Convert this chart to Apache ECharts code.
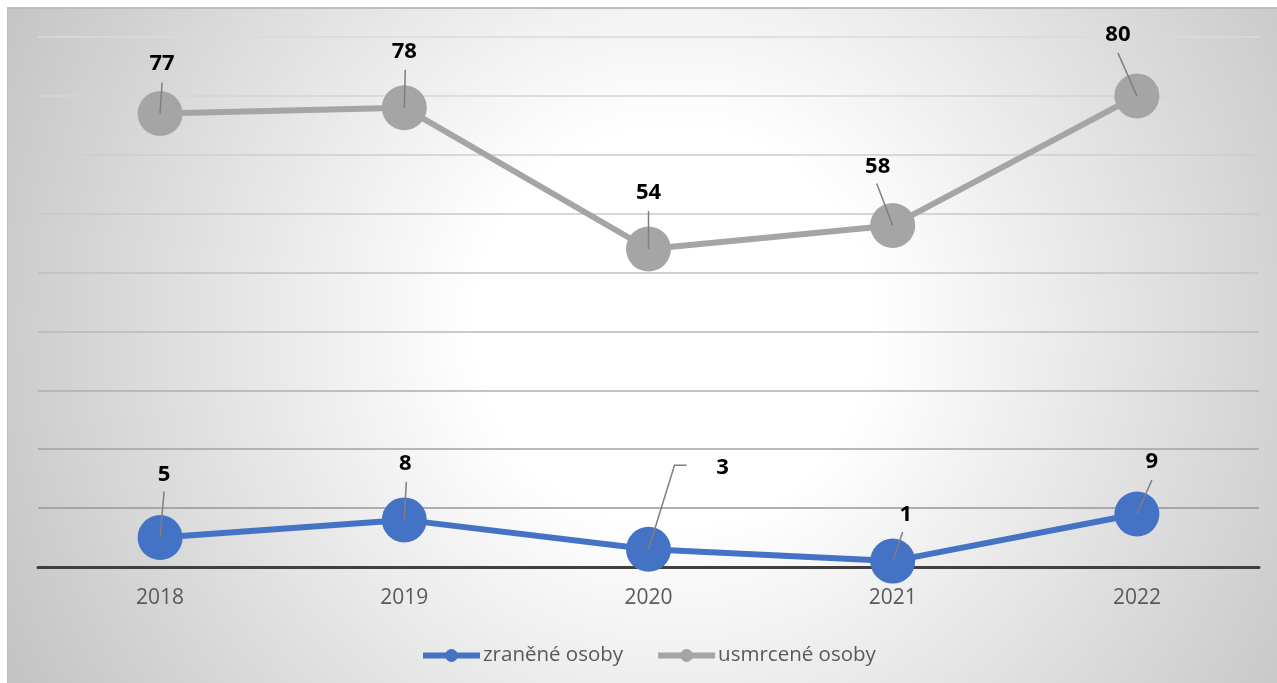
<!DOCTYPE html>
<html>
<head>
<meta charset="utf-8">
<script src="https://cdn.jsdelivr.net/npm/echarts@6/dist/echarts.min.js"></script>
<style>
  html, body { margin: 0; padding: 0; background: #fff; }
  .wrap { position: relative; width: 1277px; height: 683px; overflow: hidden; }
  .frame {
    position: absolute; left: 7px; top: 7px; width: 1280px; height: 690px;
    border-left: 1px solid #bdbdbd; border-top: 2px solid #bdbdbd;
    background: radial-gradient(circle farthest-corner at 52% 46%, #ffffff 0%, #ffffff 26%, #c2c2c2 100%);
  }
  #chart { position: absolute; left: 0; top: 0; width: 1277px; height: 683px; }
</style>
</head>
<body>
<div class="wrap">
  <div class="frame"></div>
  <div id="chart"></div>
</div>
<script>
// data
const years = ['2018', '2019', '2020', '2021', '2022'];
const zranene = [5, 8, 3, 1, 9];
const usmrcene = [77, 78, 54, 58, 80];

// callout offsets (px from marker centre)
const zraneneLabelPos = [[4, -63], [1, -56], [74, -82], [13, -46], [15, -52]];
const zraneneLeader = [[[4, -46]], [[2, -38]], [[26, -84], [38, -84]], [[10, -29]], [[15, -34]]];
const usmrceneLabelPos = [[2, -50], [0, -56], [0, -56], [-15, -59], [-19, -61]];
const usmrceneLeader = [[[2, -31]], [[1, -38]], [[0, -38]], [[-16, -42]], [[-19, -43]]];

// grid line colours, bottom to top
const gridColors = ['#404040', '#969696', '#a2a2a2', '#aeaeae', '#b8b8b8',
  '#c0c0c0', '#c8c8c8', '#cecece', '#d4d4d4', '#dadada'];

const chart = echarts.init(document.getElementById('chart'));

const callout = (values, labelPos, leader) => ({
  type: 'custom',
  z: 10,
  silent: true,
  data: values.map((v, i) => [i, v]),
  encode: { x: 0, y: 1 },
  renderItem: (params, api) => {
    const i = params.dataIndex;
    const p = api.coord([api.value(0), api.value(1)]);
    const pts = [[p[0], p[1]]].concat(leader[i].map(o => [p[0] + o[0], p[1] + o[1]]));
    return {
      type: 'group',
      children: [
        { type: 'polyline', shape: { points: pts },
          style: { stroke: '#7f7f7f', lineWidth: 1.5, fill: null } },
        { type: 'text',
          style: { text: String(values[i]), x: p[0] + labelPos[i][0], y: p[1] + labelPos[i][1],
            font: 'bold 22px "Open Sans"', fill: '#000', align: 'center', verticalAlign: 'middle' } }
      ]
    };
  }
});

const option = {
  backgroundColor: 'transparent',
  animation: false,
  grid: { left: 38, right: 18, top: 37, bottom: 116 },
  legend: {
    data: ['zraněné osoby', 'usmrcené osoby'],
    top: 640,
    left: 415,
    itemWidth: 57,
    itemHeight: 16,
    itemGap: 32,
    lineStyle: { width: 6 },
    textStyle: { color: '#595959', fontSize: 20.5, fontFamily: 'Open Sans', padding: [0, 0, 0, -2] }
  },
  xAxis: {
    type: 'category',
    data: years,
    boundaryGap: true,
    axisLine: { lineStyle: { color: '#404040', width: 3 } },
    axisTick: { show: false },
    axisLabel: { color: '#595959', fontSize: 21, fontFamily: 'Open Sans', margin: 21 },
    z: 5
  },
  yAxis: {
    type: 'value',
    min: 0,
    max: 90,
    interval: 10,
    axisLabel: { show: false },
    axisLine: { show: false },
    axisTick: { show: false },
    splitLine: { lineStyle: { color: gridColors, width: 1.5 } }
  },
  series: [
    {
      name: 'zraněné osoby',
      type: 'line',
      data: zranene,
      symbol: 'circle',
      symbolSize: 45,
      color: '#4472c4',
      lineStyle: { width: 6, color: '#4472c4' },
      itemStyle: { color: '#4472c4' },
      z: 6
    },
    {
      name: 'usmrcené osoby',
      type: 'line',
      data: usmrcene,
      symbol: 'circle',
      symbolSize: 45,
      color: '#a5a5a5',
      lineStyle: { width: 6, color: '#a5a5a5' },
      itemStyle: { color: '#a5a5a5' },
      z: 6
    },
    callout(zranene, zraneneLabelPos, zraneneLeader),
    callout(usmrcene, usmrceneLabelPos, usmrceneLeader)
  ]
};

chart.setOption(option);
</script>
</body>
</html>
